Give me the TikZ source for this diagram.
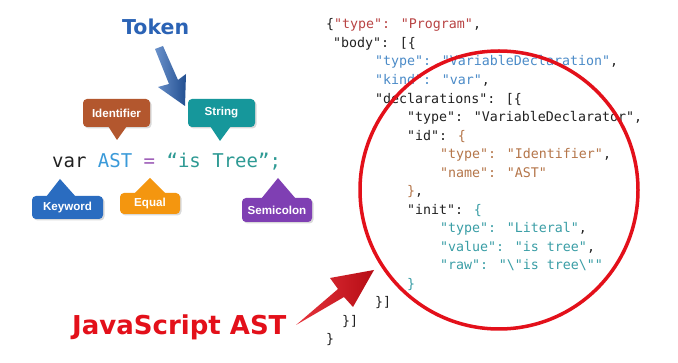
\documentclass[tikz,border=0pt]{standalone}
\usepackage{fontspec}
\setmainfont{DejaVu Sans}
\newfontfamily\codefont{DejaVu Sans Mono}
\newfontfamily\labfont{Liberation Sans}
\newfontfamily\headfont{DejaVu Sans}
\definecolor{jk}{HTML}{222222}
\definecolor{jred}{HTML}{B94444}
\definecolor{jblue}{HTML}{4B8BC8}
\definecolor{jbrown}{HTML}{B5764A}
\definecolor{jteal}{HTML}{3A9EA6}
\definecolor{cAST}{HTML}{3A9AD9}
\definecolor{cEq}{HTML}{9B59B6}
\definecolor{cStr}{HTML}{2E9A94}
\definecolor{tIdent}{HTML}{B3572E}
\definecolor{tString}{HTML}{16979B}
\definecolor{tKey}{HTML}{2A6CC0}
\definecolor{tEq}{HTML}{F4960F}
\definecolor{tSemi}{HTML}{7F3FB3}
\definecolor{redc}{HTML}{E3101A}
\definecolor{tokblue}{HTML}{2B63B5}
\begin{document}
\begin{tikzpicture}[x=1pt,y=-1pt,
  code/.style={anchor=base west, inner sep=0pt, text=jk, font=\codefont\fontsize{13.3}{16}\selectfont},
  tag/.style={rounded corners=4pt, text=white, inner sep=0pt, font=\labfont\bfseries\fontsize{11.6}{13}\selectfont},
  shadowc/.style={fill=black, opacity=0.15}]
\useasboundingbox (0,0) rectangle (678,363);
\fill[white] (0,0) rectangle (678,363);

% Token title and blue arrow
\node[anchor=base west, inner sep=0pt, text=tokblue, font=\headfont\bfseries\fontsize{20.5}{24}\selectfont] (token) at (122,35) {Token};
\shade[left color=tokblue!70!white, right color=tokblue!80!black]
  (155,49) -- (163,46) -- (178,80) -- (186,74) -- (185,106) -- (158,87) -- (169,84) -- cycle;

% callouts: shadows
\fill[shadowc, rounded corners=4pt] (84.5,100.5) rectangle (151.5,128.5);
\fill[shadowc, rounded corners=4pt] (189.5,100.5) rectangle (256.5,128.5);
\fill[shadowc, rounded corners=4pt] (33.5,197.5) rectangle (104.5,220.5);
\fill[shadowc, rounded corners=4pt] (121.5,194.5) rectangle (181.5,215.5);
\fill[shadowc, rounded corners=4pt] (243.5,199.5) rectangle (313.5,223.5);

% Identifier
\fill[tIdent] (108,126) -- (117,140) -- (127,126) -- cycle;
\node[tag, fill=tIdent, minimum width=67, minimum height=28] (ident) at (116.5,113) {Identifier};
% String
\fill[tString] (210,126) -- (220,141) -- (231,126) -- cycle;
\node[tag, fill=tString, minimum width=67, minimum height=28] (string) at (221.5,113) {String};
% Keyword
\fill[tKey] (46,197) -- (60,179) -- (76,197) -- cycle;
\node[tag, fill=tKey, minimum width=71, minimum height=23] (keyword) at (67.5,207.5) {Keyword};
% Equal
\fill[tEq] (134,194) -- (150,178) -- (166,194) -- cycle;
\node[tag, fill=tEq, minimum width=60, minimum height=21] (equal) at (150,203.5) {Equal};
% Semicolon
\fill[tSemi] (261,199) -- (278,178) -- (296,199) -- cycle;
\node[tag, fill=tSemi, minimum width=70, minimum height=24] (semi) at (277,210) {Semicolon};

% source line
\node[anchor=base west, inner sep=0pt, text=jk, font=\codefont\fontsize{19}{22}\selectfont] (varline) at (52,168)
  {var \textcolor{cAST}{AST} \textcolor{cEq}{=} \textcolor{cStr}{“is Tree”;}};

% AST JSON
\node[code] (l1) at (326,29) {\{\textcolor{jred}{"type": "Program"},};
\node[code] (l2) at (333,47.5) {"body": [\{};
\node[code] (l3) at (375,66) {\textcolor{jblue}{"type": "VariableDeclaration"},};
\node[code] (l4) at (375,84.6) {\textcolor{jblue}{"kind": "var"},};
\node[code] (l5) at (375,103.1) {"declarations": [\{};
\node[code] (l6) at (407,121.7) {"type": "VariableDeclarator",};
\node[code] (l7) at (407,140.2) {"id": \textcolor{jbrown}{\{}};
\node[code] (l8) at (440,158.7) {\textcolor{jbrown}{"type": "Identifier"},};
\node[code] (l9) at (440,177.2) {\textcolor{jbrown}{"name": "AST"}};
\node[code] (l10) at (407,195.8) {\textcolor{jbrown}{\}},};
\node[code] (l11) at (407,214.3) {"init": \textcolor{jteal}{\{}};
\node[code] (l12) at (440,232.8) {\textcolor{jteal}{"type": "Literal"},};
\node[code] (l13) at (440,251.4) {\textcolor{jteal}{"value": "is tree"},};
\node[code] (l14) at (440,269.9) {\textcolor{jteal}{"raw": "\textbackslash"is tree\textbackslash""}};
\node[code] (l15) at (407,288.4) {\textcolor{jteal}{\}}};
\node[code] (l16) at (375,307) {\}]};
\node[code] (l17) at (342,325.5) {\}]};
\node[code] (l18) at (326,344) {\}};

% red circle
\draw[redc, line width=3.5pt] (499,190) ellipse [x radius=139, y radius=139];

% JavaScript AST label and red arrow
\node[anchor=base west, inner sep=0pt, text=redc, font=\headfont\bfseries\fontsize{26}{30}\selectfont] (jsast) at (72,335) {JavaScript AST};
\shade[left color=redc!85!white, right color=redc!80!black]
  (296,325) -- (338,289) -- (330,278) -- (374,270) -- (353,307) -- (344,297) -- cycle;
\end{tikzpicture}
\end{document}
